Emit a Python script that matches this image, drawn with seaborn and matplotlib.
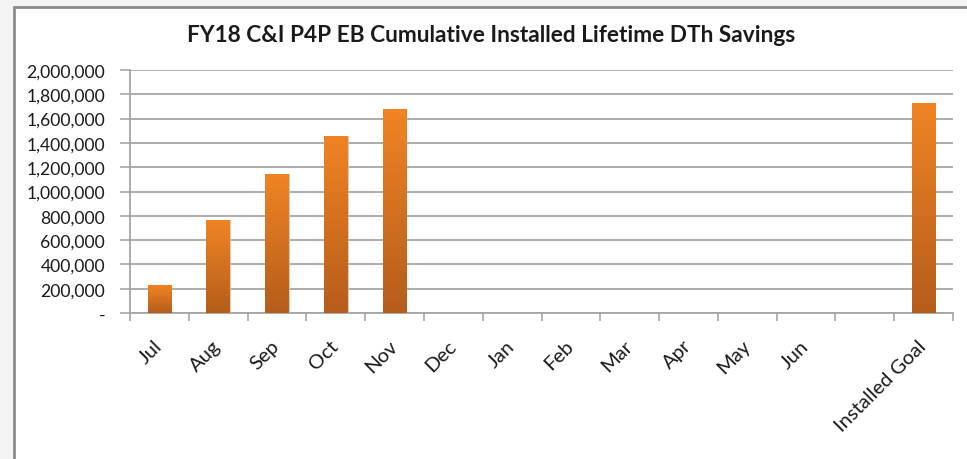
import numpy as np
import pandas as pd
import matplotlib
matplotlib.use("Agg")
import matplotlib.pyplot as plt
import seaborn as sns
from matplotlib.ticker import FuncFormatter, FixedLocator
from matplotlib.colors import LinearSegmentedColormap

categories = ["Jul", "Aug", "Sep", "Oct", "Nov", "Dec", "Jan", "Feb", "Mar",
              "Apr", "May", "Jun", " ", "Installed Goal"]
savings = [230000, 763000, 1141000, 1457000, 1676000, 0, 0, 0, 0,
           0, 0, 0, 0, 1728000]
title = "FY18 C&I P4P EB Cumulative Installed Lifetime DTh Savings"

sns.set_theme(style="white")
plt.rcParams["font.family"] = ["Lato", "DejaVu Sans"]

df = pd.DataFrame({"cat": categories, "val": savings})

fig = plt.figure(figsize=(9.67, 4.6), dpi=100)
fig.patch.set_facecolor("#f4f4f4")
# chart frame drawn in a background axes
bg = fig.add_axes([0, 0, 1, 1], zorder=-10)
bg.set_xlim(0, 967)
bg.set_ylim(460, 0)
bg.axis("off")
bg.add_patch(plt.Rectangle((14, 8), 1100, 600, facecolor="white",
                           edgecolor="#8c8c8c", linewidth=2))

ax = fig.add_axes([130 / 967, 1 - 314 / 460, (953 - 130) / 967, (314 - 71) / 460])
ax.set_facecolor("none")
sns.barplot(data=df, x="cat", y="val", color="#e07b22", width=0.4, ax=ax, zorder=3)

# gradient fill on bars
cmap = LinearSegmentedColormap.from_list("og", ["#b55d1b", "#f08424"])
grad = np.linspace(0, 1, 256).reshape(-1, 1)
for p in list(ax.patches):
    h = p.get_height()
    if h <= 0:
        p.set_visible(False)
        continue
    x0 = p.get_x()
    w = p.get_width()
    im = ax.imshow(grad, extent=(x0, x0 + w, 0, h), origin="lower", cmap=cmap,
                   aspect="auto", zorder=3.5)
    im.set_clip_path(p)
    p.set_facecolor("none")
    p.set_edgecolor("#d9c2ae")
    p.set_linewidth(0.6)

ax.set_xlim(-0.5, len(categories) - 0.5)
ax.set_ylim(0, 2000000)
ax.set_yticks(np.arange(0, 2000001, 200000))
ax.yaxis.set_major_formatter(FuncFormatter(lambda v, _: "-" if v == 0 else f"{int(v):,}"))
ax.grid(axis="y", color="#a6a6a6", linewidth=1.3, zorder=0)
ax.set_axisbelow(True)

for s in ["top", "right"]:
    ax.spines[s].set_visible(False)
ax.spines["left"].set_color("#a6a6a6")
ax.spines["bottom"].set_color("#a6a6a6")
ax.spines["left"].set_linewidth(1.3)
ax.spines["bottom"].set_linewidth(1.3)

ax.tick_params(axis="y", which="major", left=True, length=7, width=1.2, color="#a6a6a6",
               labelsize=12.6, labelcolor="#1a1a1a", pad=11)
ax.set_xticks(range(len(categories)))
ax.set_xticklabels(categories, rotation=45, ha="right", rotation_mode="anchor",
                   fontsize=14.5, color="#1a1a1a")
ax.tick_params(axis="x", which="major", bottom=False, pad=11)
ax.xaxis.set_minor_locator(FixedLocator(np.arange(-0.5, len(categories), 1.0)))
ax.tick_params(axis="x", which="minor", bottom=True, length=6, width=1.2, color="#a6a6a6")
for lbl in ax.get_xticklabels():
    lbl.set_transform(lbl.get_transform() + matplotlib.transforms.ScaledTranslation(-6 / 100, 0, fig.dpi_scale_trans))

ax.set_xlabel("")
ax.set_ylabel("")

fig.text(491 / 967, 1 - 36 / 460, title, ha="center", va="center",
         fontsize=16.3, fontweight="bold", color="#1a1a1a")

fig.savefig("out.png", dpi=100, facecolor=fig.get_facecolor())
